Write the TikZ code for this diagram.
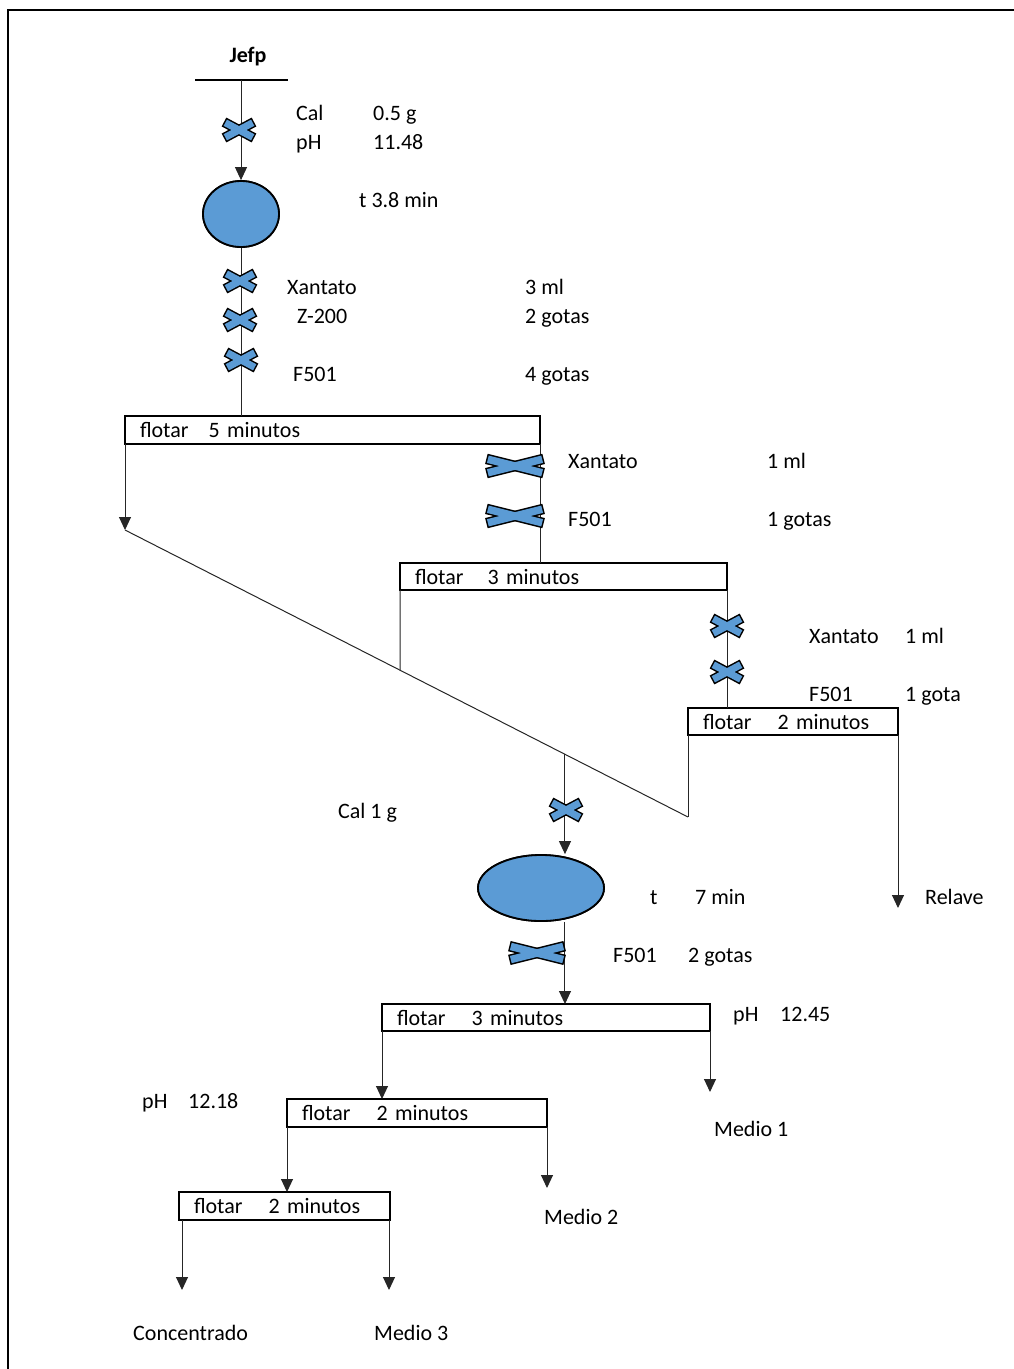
\documentclass[tikz,border=0pt]{standalone}
\usepackage{fontspec}
\setmainfont{Carlito}
\usetikzlibrary{arrows.meta,shapes.geometric,calc}
\definecolor{xblue}{HTML}{5B9BD5}
\tikzset{
  conn/.style={line width=1pt, draw=black!85},
  arr/.style={conn, -{Triangle[width=12pt,length=13pt]}},
  box/.style={draw, line width=2pt, anchor=north west, inner xsep=15pt, inner ysep=0pt, align=left, outer sep=0pt},
  lab/.style={anchor=base west, inner sep=0pt},
  tank/.style={ellipse, draw, line width=1.8pt, fill=xblue, inner sep=0pt},
  pics/dose/.style n args={3}{code={
    \foreach \a in {#3,-#3}{\path[draw=black, line width=3pt, rotate=\a] (-#1/2,-#2/2) rectangle (#1/2,#2/2);}
    \foreach \a in {#3,-#3}{\path[fill=xblue, rotate=\a] (-#1/2,-#2/2) rectangle (#1/2,#2/2);}
  }},
}
\begin{document}
\begin{tikzpicture}[x=1pt, y=-1pt, font=\fontsize{22}{26}\selectfont]
\useasboundingbox (0,0) rectangle (1014,1369);
% page frame
\draw[line width=2pt] (1014,10) -- (8,10) -- (8,1369);

% feed
\node[anchor=base, inner sep=0pt, font=\fontsize{22}{26}\selectfont\bfseries] (jefp) at (248,62) {Jefp};
\coordinate (jl) at (195,80);
\coordinate (jr) at (288,80);
\coordinate (feed) at (241,80);
\draw[line width=2pt] (jl) -- (jr);

% tanks and flotation cells
\node[tank, minimum width=76pt, minimum height=66pt] (c1) at (241,214) {};
\node[tank, minimum width=126pt, minimum height=66pt] (c2) at (541,888) {};
\node[box, minimum width=415pt, minimum height=28pt, text width=385pt] (b1) at (125,416) {flotar\hspace{20pt}5 minutos};
\node[box, minimum width=327pt, minimum height=27pt, text width=297pt] (b2) at (400,563) {flotar\hspace{24pt}3 minutos};
\node[box, minimum width=210pt, minimum height=27pt, text width=180pt] (b3) at (688,708) {flotar\hspace{26pt}2 minutos};
\node[box, minimum width=328pt, minimum height=27pt, text width=298pt] (b4) at (382,1004) {flotar\hspace{26pt}3 minutos};
\node[box, minimum width=260pt, minimum height=28pt, text width=230pt] (b5) at (287,1099) {flotar\hspace{26pt}2 minutos};
\node[box, minimum width=211pt, minimum height=28pt, text width=181pt] (b6) at (179,1192) {flotar\hspace{26pt}2 minutos};

% helper points
\coordinate (d0) at (125,530);
\coordinate (d1) at (688,817);
\coordinate (j1) at ($(d0)!0.4885!(d1)$);
\coordinate (j2) at ($(d0)!0.7815!(d1)$);
\coordinate (relave) at (898,908);
\coordinate (m1) at (710,1092);
\coordinate (m2) at (547,1188);
\coordinate (conc) at (182,1290);
\coordinate (m3) at (389,1290);

% streams
\draw[arr] (feed) -- (c1.north);
\draw[conn] (c1.south) -- (c1.south |- b1.north);
\draw[arr] (b1.south west) -- (d0);
\draw[conn] (d0) -- (d1);
\draw[conn] (b1.south east) -- (b1.south east |- b2.north);
\draw[conn] (b2.south west) -- (j1);
\draw[conn] (b2.south east) -- (b2.south east |- b3.north);
\draw[conn] (b3.south west) -- (d1);
\draw[arr] (relave |- b3.south) -- (relave);
\draw[arr] (j2) -- (j2 |- c2.north);
\draw[arr] (j2 |- c2.south) -- (j2 |- b4.north);
\draw[arr] (b4.south west) -- (b4.south west |- b5.north);
\draw[arr] (m1 |- b4.south) -- (m1);
\draw[arr] (b5.south west) -- (b5.south west |- b6.north);
\draw[arr] (m2 |- b5.south) -- (m2);
\draw[arr] (conc |- b6.south) -- (conc);
\draw[arr] (m3 |- b6.south) -- (m3);
% redraw tanks over the stream lines
\node[tank, minimum width=76pt, minimum height=66pt] at (c1) {};
\node[tank, minimum width=126pt, minimum height=66pt] at (c2) {};

% reagent additions
\pic at (239,130) {dose={31}{7}{28}};
\pic at (240,281) {dose={31}{7}{28}};
\pic at (240,320) {dose={31}{7}{28}};
\pic at (241,360) {dose={31}{7}{28}};
\pic at (515,466) {dose={56}{7.5}{14}};
\pic at (515,516) {dose={56}{7.5}{14}};
\pic at (727,626) {dose={31}{7}{28}};
\pic at (727,672) {dose={31}{7}{28}};
\pic at (566,810) {dose={31}{7}{28}};
\pic at (537,953) {dose={54}{7.5}{14}};

% labels
\node[lab] (l1) at (296,120) {Cal};
\node[lab] (l2) at (373,120) {0.5 g};
\node[lab] (l3) at (296,149) {pH};
\node[lab] (l4) at (373,149) {11.48};
\node[lab] (l5) at (359,207) {t 3.8 min};
\node[lab] (l6) at (287,294) {Xantato};
\node[lab] (l7) at (525,294) {3 ml};
\node[lab] (l8) at (297,323) {Z-200};
\node[lab] (l9) at (525,323) {2 gotas};
\node[lab] (l10) at (293,381) {F501};
\node[lab] (l11) at (525,381) {4 gotas};
\node[lab] (l12) at (568,468) {Xantato};
\node[lab] (l13) at (767,468) {1 ml};
\node[lab] (l14) at (568,526) {F501};
\node[lab] (l15) at (767,526) {1 gotas};
\node[lab] (l16) at (809,643) {Xantato};
\node[lab] (l17) at (905,643) {1 ml};
\node[lab] (l18) at (809,701) {F501};
\node[lab] (l19) at (905,701) {1 gota};
\node[lab] (l20) at (925,904) {Relave};
\node[lab] (l21) at (338,818) {Cal 1 g};
\node[lab] (l22) at (650,904) {t};
\node[lab] (l23) at (695,904) {7 min};
\node[lab] (l24) at (613,962) {F501};
\node[lab] (l25) at (688,962) {2 gotas};
\node[lab] (l26) at (733,1021) {pH};
\node[lab] (l27) at (780,1021) {12.45};
\node[lab] (l28) at (714,1136) {Medio 1};
\node[lab] (l29) at (142,1108) {pH};
\node[lab] (l30) at (188,1108) {12.18};
\node[lab] (l31) at (544,1224) {Medio 2};
\node[lab] (l32) at (133,1340) {Concentrado};
\node[lab] (l33) at (374,1340) {Medio 3};
\end{tikzpicture}
\end{document}
